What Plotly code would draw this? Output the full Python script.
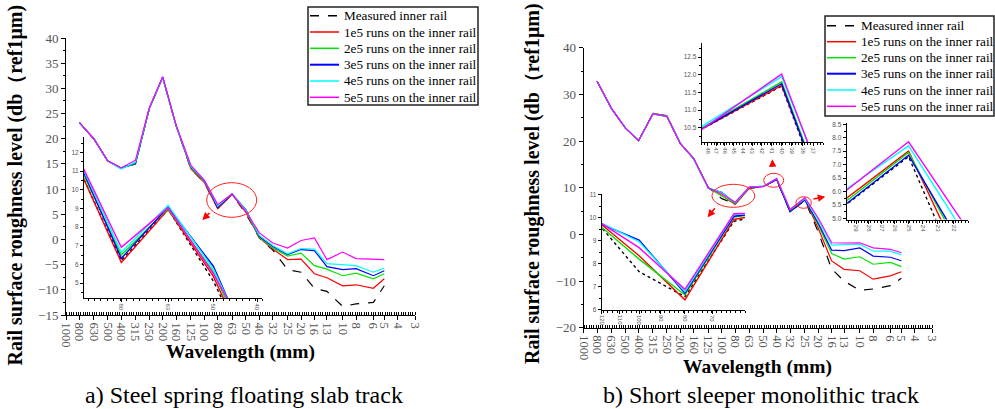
import numpy as np
import plotly.graph_objects as go

# ---------------- data ----------------
wavelength = [800, 630, 500, 400, 315, 250, 200, 160, 125, 100, 80, 63, 50,
              40, 32, 25, 20, 16, 13, 10, 8, 6, 5]
x_tick_values = [1000, 800, 630, 500, 400, 315, 250, 200, 160, 125, 100, 80, 63,
                 50, 40, 32, 25, 20, 16, 13, 10, 8, 6, 5, 4, 3]
x_tick_labels = [str(v) for v in x_tick_values]

series_names = ["Measured inner rail", "1e5 runs on the inner rail",
                "2e5 runs on the inner rail", "3e5 runs on the inner rail",
                "4e5 runs on the inner rail", "5e5 runs on the inner rail"]

# a) Steel spring floating slab track
slab_measured = [23.2, 20.0, 15.6, 14.2, 15.0, 26.0, 32.2, 22.6, 14.0, 11.3, 6.2, 8.95, 5.1,
                 0.3, -2.1, -6.0, -6.5, -9.7, -10.3, -13.3, -12.8, -12.5, -9.2]
slab_1e5 = [23.2, 20.0, 15.6, 14.2, 15.0, 26.0, 32.2, 22.6, 14.0, 11.31, 6.1, 8.93, 5.35,
            0.3, -1.9, -4.0, -3.9, -6.8, -7.6, -9.2, -9.0, -9.7, -7.8]
slab_2e5 = [23.2, 20.0, 15.6, 14.2, 15.0, 26.0, 32.2, 22.6, 14.2, 11.5, 6.5, 8.98, 5.6,
            0.4, -1.7, -3.3, -2.7, -5.2, -5.9, -7.2, -6.7, -7.8, -6.8]
slab_3e5 = [23.2, 20.0, 15.6, 14.1, 15.1, 26.0, 32.2, 22.6, 14.4, 11.68, 6.32, 9.07, 5.9,
            0.6, -1.4, -3.0, -2.0, -2.2, -5.4, -6.0, -5.8, -7.2, -6.2]
slab_4e5 = [23.2, 20.0, 15.6, 14.0, 15.3, 26.0, 32.2, 22.6, 14.5, 11.74, 6.65, 9.16, 5.75,
            0.8, -1.2, -2.85, -1.8, -1.9, -4.8, -5.0, -5.2, -6.5, -5.7]
slab_5e5 = [23.2, 20.0, 15.6, 14.2, 15.7, 26.1, 32.3, 22.7, 14.7, 11.78, 6.91, 9.04, 5.5,
            1.3, -0.7, -1.7, -0.2, 0.3, -4.0, -2.5, -3.8, -4.0, -4.0]

# b) Short sleeper monolithic track
sleeper_measured = [32.8, 27.0, 22.8, 20.1, 25.9, 25.4, 19.5, 16.3, 10.0, 7.65, 6.56, 9.85, 10.3,
                    11.68, 4.8, 7.3, 0.5, -7.4, -10.0, -12.0, -11.7, -11.0, -9.4]
sleeper_1e5 = [32.8, 27.0, 22.8, 20.1, 25.9, 25.4, 19.5, 16.3, 10.0, 8.35, 6.42, 9.93, 10.3,
               11.7, 5.04, 7.5, 1.3, -5.7, -7.5, -7.8, -9.6, -8.9, -8.0]
sleeper_2e5 = [32.8, 27.0, 22.8, 20.1, 25.9, 25.4, 19.5, 16.3, 9.9, 8.2, 6.63, 10.04, 10.32,
               11.8, 4.92, 7.45, 2.0, -4.1, -5.3, -4.8, -6.4, -6.0, -6.9]
sleeper_3e5 = [32.8, 27.0, 22.8, 20.1, 25.8, 25.3, 19.5, 16.2, 9.88, 9.03, 6.71, 10.07, 10.3,
               11.75, 4.82, 7.35, 2.4, -3.36, -3.5, -2.9, -4.65, -4.9, -5.65]
sleeper_4e5 = [32.8, 27.0, 22.8, 20.1, 25.8, 25.3, 19.5, 16.2, 9.95, 8.96, 6.78, 10.15, 10.35,
               11.95, 5.45, 7.7, 3.1, -2.3, -2.2, -2.1, -3.6, -3.6, -4.4]
sleeper_5e5 = [32.8, 27.0, 22.8, 20.1, 25.8, 25.3, 19.5, 16.3, 9.99, 8.7, 6.88, 10.18, 10.25,
               12.02, 5.32, 7.85, 3.5, -1.8, -1.85, -1.8, -2.9, -3.2, -3.95]

inset_a_ticks = [80, 63, 50, 40]
inset_b1_ticks = [120, 110, 100, 90, 80, 70]
inset_b2_ticks = [48, 47, 46, 45, 44, 43, 42, 41, 40, 39, 38, 37]
inset_b3_ticks = [29, 28, 27, 26, 25, 24, 23, 22]

colors = ["#000000", "#FF0000", "#00E600", "#0000FF", "#00FFFF", "#FF00FF"]

# ---------------- helpers ----------------
W, H = 995, 409
def px(x): return x / W
def py(y): return 1 - y / H

SERIF = "Liberation Serif"
SANS = "Liberation Sans"
TICKCOL = "#555555"

fig = go.Figure()

slab = [slab_measured, slab_1e5, slab_2e5, slab_3e5, slab_4e5, slab_5e5]
sleeper = [sleeper_measured, sleeper_1e5, sleeper_2e5, sleeper_3e5, sleeper_4e5, sleeper_5e5]

def add_series(data, xa, ya, width, dash_black):
    for i, (name, vals) in enumerate(zip(series_names, data)):
        fig.add_trace(go.Scatter(
            x=wavelength, y=vals, mode="lines", name=name, showlegend=False,
            xaxis=xa, yaxis=ya,
            line=dict(color=colors[i], width=width,
                      dash=(dash_black if i == 0 else "solid"))))

add_series(slab, "x", "y", 1.2, "dash")
add_series(slab, "x2", "y2", 1.4, "dot")
add_series(sleeper, "x3", "y3", 1.2, "dash")
add_series(sleeper, "x4", "y4", 1.4, "dot")
add_series(sleeper, "x5", "y5", 1.4, "dot")
add_series(sleeper, "x6", "y6", 1.4, "dot")

def log_minor(lo, hi, per_decade):
    a, b = np.log10(lo), np.log10(hi)
    n = int((b - a) * per_decade) + 1
    return [float(10 ** (a + i / per_decade)) for i in range(n)]

main_minor = log_minor(3, 1000, 60)

def main_x(domain):
    return dict(domain=domain, type="log", range=[3, float(np.log10(3))],
                tickmode="array", tickvals=x_tick_values, ticktext=x_tick_labels,
                tickangle=90, ticks="outside", ticklen=4, tickcolor="black",
                tickfont=dict(family=SERIF, size=12.5, color=TICKCOL),
                showline=True, linecolor="black", linewidth=1,
                showgrid=False, zeroline=False, automargin=False,
                minor=dict(tickmode="array", tickvals=main_minor, ticks="inside",
                           ticklen=3, tickcolor="black", showgrid=False))

def main_y(domain, rng, dtick, mdtick):
    return dict(domain=domain, range=rng, tickmode="linear", tick0=rng[0], dtick=dtick,
                ticks="outside", ticklen=4, tickcolor="black",
                tickfont=dict(family=SERIF, size=13, color=TICKCOL),
                showline=True, linecolor="black", linewidth=1,
                showgrid=False, zeroline=False, automargin=False,
                minor=dict(dtick=mdtick, ticks="outside", ticklen=2,
                           tickcolor="black", showgrid=False))

def inset_x(domain, lo, hi, ticks, per_decade):
    return dict(domain=domain, type="log",
                range=[float(np.log10(lo)), float(np.log10(hi))],
                tickmode="array", tickvals=ticks, ticktext=[str(t) for t in ticks],
                tickangle=90, ticks="outside", ticklen=3, tickcolor="black",
                tickfont=dict(family=SANS, size=6, color=TICKCOL),
                showline=True, linecolor="black", linewidth=1,
                showgrid=False, zeroline=False, automargin=False,
                minor=dict(tickmode="array", tickvals=log_minor(hi, lo, per_decade),
                           ticks="outside", ticklen=2, tickcolor="black", showgrid=False))

def inset_y(domain, rng, tick0, dtick, mdtick, fmt):
    return dict(domain=domain, range=rng, tickmode="linear", tick0=tick0, dtick=dtick,
                tickformat=fmt, ticks="outside", ticklen=3, tickcolor="black",
                tickfont=dict(family=SANS, size=6.5, color=TICKCOL),
                showline=True, linecolor="black", linewidth=1,
                showgrid=False, zeroline=False, automargin=False,
                minor=dict(dtick=mdtick, ticks="outside", ticklen=2,
                           tickcolor="black", showgrid=False))

layout = dict(
    width=W, height=H, autosize=False,
    margin=dict(l=0, r=0, t=0, b=0, pad=0, autoexpand=False),
    paper_bgcolor="white", plot_bgcolor="rgba(0,0,0,0)",
    showlegend=False,
    xaxis=dict(main_x([px(66), px(415)]), anchor="y"),
    yaxis=dict(main_y([py(315), py(38)], [-15, 40], 5, 2.5), anchor="x"),
    xaxis2=dict(inset_x([px(84), px(262)], 96.8, 39, inset_a_ticks, 70), anchor="y2"),
    yaxis2=dict(inset_y([py(298.3), py(136.7)], [4.18, 12.84], 5, 1, 0.5, "d"), anchor="x2"),
    xaxis3=dict(main_x([px(583.7), px(932)]), anchor="y3"),
    yaxis3=dict(main_y([py(327.7), py(47.7)], [-20, 40], 10, 5), anchor="x3"),
    xaxis4=dict(inset_x([px(601.7), px(745)], 120, 59.7, inset_b1_ticks, 100), anchor="y4"),
    yaxis4=dict(inset_y([py(309.7), py(194.3)], [5.99, 11.03], 6, 1, 0.5, "d"), anchor="x4"),
    xaxis5=dict(inset_x([px(701.7), px(823.3)], 48.7, 36.1, inset_b2_ticks, 300), anchor="y5"),
    yaxis5=dict(inset_y([py(142), py(43)], [10.1, 12.9], 10.5, 0.5, 0.25, ".1f"), anchor="x5"),
    xaxis6=dict(inset_x([px(846.7), px(968.3)], 29.8, 21.1, inset_b3_ticks, 250), anchor="y6"),
    yaxis6=dict(inset_y([py(219.6), py(123)], [4.95, 8.55], 5.0, 0.5, 0.25, ".1f"), anchor="x6"),
)
fig.update_layout(**layout)

shapes = []
annotations = []

def ann(x, y, text, size, bold=False, angle=0, xanchor="center", color="black"):
    annotations.append(dict(
        x=px(x), y=py(y), xref="paper", yref="paper", showarrow=False,
        text=("<b>%s</b>" % text) if bold else text, textangle=angle,
        xanchor=xanchor, yanchor="middle",
        font=dict(family=SERIF, size=size, color=color)))

# axis titles and captions
ytitle = "Rail surface roughness level (db\uff08ref1\u03bcm)"
ann(15.5, 185, ytitle, 20, bold=True, angle=-90)
ann(532, 184, ytitle, 20, bold=True, angle=-90)
ann(240.5, 352, "Wavelength (mm)", 19.5, bold=True)
ann(757, 366.5, "Wavelength (mm)", 19.5, bold=True)
ann(244, 395, "a) Steel spring floating slab track", 24)
ann(761, 395, "b) Short sleeper monolithic track", 24)

# legends (manual, to match compact spacing)
def legend(box, line_x, text_x, ys):
    x0, y0, x1, y1 = box
    shapes.append(dict(type="rect", xref="paper", yref="paper",
                       x0=px(x0), x1=px(x1), y0=py(y1), y1=py(y0),
                       line=dict(color="#222222", width=1.5), fillcolor="white", layer="above"))
    for i, (name, yy) in enumerate(zip(series_names, ys)):
        shapes.append(dict(type="line", xref="paper", yref="paper",
                           x0=px(line_x[0]), x1=px(line_x[1]), y0=py(yy), y1=py(yy),
                           line=dict(color=colors[i], width=1.5 if i != 3 else 2,
                                     dash="dash" if i == 0 else "solid"), layer="above"))
        ann(text_x, yy, name, 13.2, xanchor="left")

legend((308, 7, 478, 105), (310, 339), 342, [15.7, 32, 48.3, 64.7, 81, 97.3])
legend((825, 16, 994, 116), (827, 856), 859, [25.7, 41.7, 57.7, 73.7, 90, 106.3])

# highlight ellipses
for (x0, y0, x1, y1) in [(206.7, 182.7, 256.7, 217.3), (712, 184.3, 754.7, 207.3),
                         (763.7, 173.3, 783.7, 187.3), (796, 196.7, 811.3, 208.3)]:
    shapes.append(dict(type="circle", xref="paper", yref="paper",
                       x0=px(x0), x1=px(x1), y0=py(y1), y1=py(y0),
                       line=dict(color="#FF2020", width=1)))

# arrows (head, tail)
for (hx, hy, tx, ty) in [(202.3, 220, 211, 211.5), (707.7, 217.3, 716, 206.7),
                         (772.3, 159.3, 772.7, 168), (825.3, 196.7, 812, 199.3)]:
    annotations.append(dict(x=px(hx), y=py(hy), xref="paper", yref="paper",
                            ax=tx - hx, ay=ty - hy, axref="pixel", ayref="pixel",
                            text="", showarrow=True, arrowhead=2, arrowsize=1,
                            arrowwidth=1.5, arrowcolor="#FF0000"))

fig.update_layout(shapes=shapes, annotations=annotations)
fig.write_html("out.html", config={"displayModeBar": False},
               post_script="document.body.style.margin='0px';document.body.style.padding='0px';")
